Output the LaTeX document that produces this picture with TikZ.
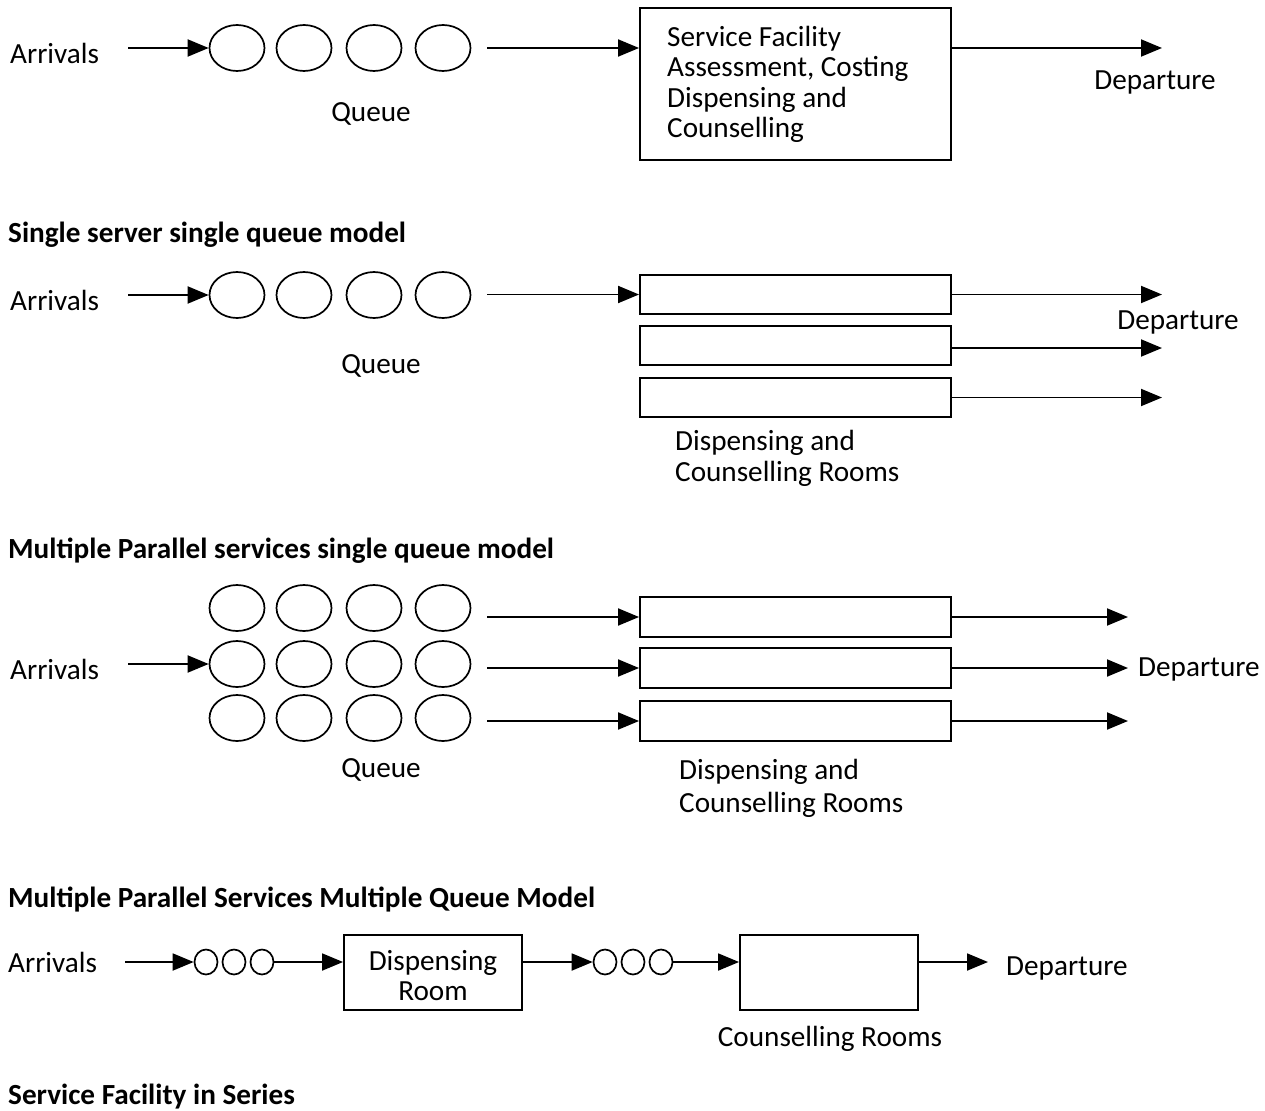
\documentclass[tikz,border=0pt]{standalone}
\usepackage{fontspec}
\setmainfont{Carlito}
\usetikzlibrary{shapes.geometric,arrows.meta}
\begin{document}
\begin{tikzpicture}[x=1pt,y=-1pt,
 lbl/.style={font=\fontsize{29.2}{30.5}\selectfont, inner sep=0pt, yshift=-2.5pt},
 ttl/.style={font=\fontsize{29.2}{30.5}\selectfont\bfseries, inner sep=0pt, anchor=west, yshift=-2.5pt},
 qc/.style={draw, ellipse, line width=1.7pt, minimum width=55pt, minimum height=46pt, inner sep=0pt},
 sq/.style={draw, ellipse, line width=1.7pt, minimum width=23pt, minimum height=25pt, inner sep=0pt},
 box/.style={draw, line width=1.9pt, inner sep=0pt},
 row/.style={box, minimum width=311pt, minimum height=39pt},
 arr/.style={line width=1.9pt, -{Triangle[length=21pt,width=17pt]}},
]
\useasboundingbox (0,0) rectangle (1265,1110);

% ---------- Section 1 ----------
\node[lbl,anchor=west] (arr1) at (10,51) {Arrivals};
\node[qc] (q11) at (237,48) {};
\node[qc] (q12) at (304,48) {};
\node[qc] (q13) at (374,48) {};
\node[qc] (q14) at (443,48) {};
\coordinate (s1) at (128,48);
\draw[arr] (s1) -- (q11.west);
\node[box, minimum width=311pt, minimum height=152pt] (sf) at (795.5,84) {};
\node[lbl, align=left, anchor=west] (sft) at (667,82)
  {Service Facility\\Assessment, Costing\\Dispensing and\\Counselling};
\draw[arr, shorten <=16pt] (q14.east) -- (sf.west |- q14.east);
\coordinate (e1) at (1162,48);
\draw[arr] (sf.east |- e1) -- (e1);
\node[lbl] (dep1) at (1155,80) {Departure};
\node[lbl] (qu1) at (371,111) {Queue};
\node[ttl] (t1) at (8,232) {Single server single queue model};

% ---------- Section 2 ----------
\node[lbl,anchor=west] (arr2) at (10,298) {Arrivals};
\node[qc] (q21) at (237,295) {};
\node[qc] (q22) at (304,295) {};
\node[qc] (q23) at (374,295) {};
\node[qc] (q24) at (443,295) {};
\coordinate (s2) at (128,295);
\draw[arr] (s2) -- (q21.west);
\node[row] (r21) at (795.5,294.5) {};
\node[row] (r22) at (795.5,345.5) {};
\node[row] (r23) at (795.5,397.5) {};
\draw[arr, shorten <=16pt] (q24.east |- r21.west) -- (r21.west);
\coordinate (e21) at (1162,294.5);
\coordinate (e22) at (1162,348);
\coordinate (e23) at (1162,397.5);
\draw[arr] (r21.east) -- (e21);
\draw[arr] (r22.east |- e22) -- (e22);
\draw[arr] (r23.east) -- (e23);
\node[lbl] (dep2) at (1178,320) {Departure};
\node[lbl] (qu2) at (381,363) {Queue};
\node[lbl, align=left, anchor=west] (rm2) at (675,456) {Dispensing and\\Counselling Rooms};
\node[ttl] (t2) at (8,548) {Multiple Parallel services single queue model};

% ---------- Section 3 ----------
\foreach \r/\y in {1/608,2/664,3/718}{
  \node[qc] (q3\r1) at (237,\y) {};
  \node[qc] (q3\r2) at (304,\y) {};
  \node[qc] (q3\r3) at (374,\y) {};
  \node[qc] (q3\r4) at (443,\y) {};
}
\node[lbl,anchor=west] (arr3) at (10,667) {Arrivals};
\coordinate (s3) at (128,664);
\draw[arr] (s3) -- (q321.west);
\node[row, minimum height=40pt] (r31) at (795.5,617) {};
\node[row, minimum height=40pt] (r32) at (795.5,668) {};
\node[row, minimum height=40pt] (r33) at (795.5,721) {};
\draw[arr, shorten <=16pt] (q314.east |- r31.west) -- (r31.west);
\draw[arr, shorten <=16pt] (q324.east |- r32.west) -- (r32.west);
\draw[arr, shorten <=16pt] (q334.east |- r33.west) -- (r33.west);
\coordinate (e31) at (1128,617);
\coordinate (e32) at (1128,668);
\coordinate (e33) at (1128,721);
\draw[arr] (r31.east) -- (e31);
\draw[arr] (r32.east) -- (e32);
\draw[arr] (r33.east) -- (e33);
\node[lbl, anchor=west] (dep3) at (1138,667) {Departure};
\node[lbl] (qu3) at (381,767) {Queue};
\node[lbl, align=left, anchor=west, font=\fontsize{29.2}{33}\selectfont] (rm3) at (679,786) {Dispensing and\\Counselling Rooms};
\node[ttl] (t3) at (8,897) {Multiple Parallel Services Multiple Queue Model};

% ---------- Section 4 ----------
\node[lbl,anchor=west] (arr4) at (8,960) {Arrivals};
\coordinate (s4) at (125,962);
\node[sq] (a1) at (206,962) {};
\node[sq] (a2) at (234,962) {};
\node[sq] (a3) at (262,962) {};
\node[box, minimum width=178pt, minimum height=75pt] (dr) at (433,972.5) {};
\node[lbl, align=center] (drt) at (433,973) {Dispensing\\Room};
\node[sq] (b1) at (605,962) {};
\node[sq] (b2) at (633,962) {};
\node[sq] (b3) at (661,962) {};
\node[box, minimum width=178pt, minimum height=75pt] (cr) at (829,972.5) {};
\coordinate (e4) at (988,962);
\draw[arr] (s4) -- (a1.west);
\draw[arr] (a3.east) -- (dr.west |- a3.east);
\draw[arr] (dr.east |- b1.west) -- (b1.west);
\draw[arr] (b3.east) -- (cr.west |- b3.east);
\draw[arr] (cr.east |- e4) -- (e4);
\node[lbl, anchor=west] (dep4) at (1006,966) {Departure};
\node[lbl] (crt) at (830,1036) {Counselling Rooms};
\node[ttl] (t4) at (8,1094) {Service Facility in Series};
\end{tikzpicture}
\end{document}
